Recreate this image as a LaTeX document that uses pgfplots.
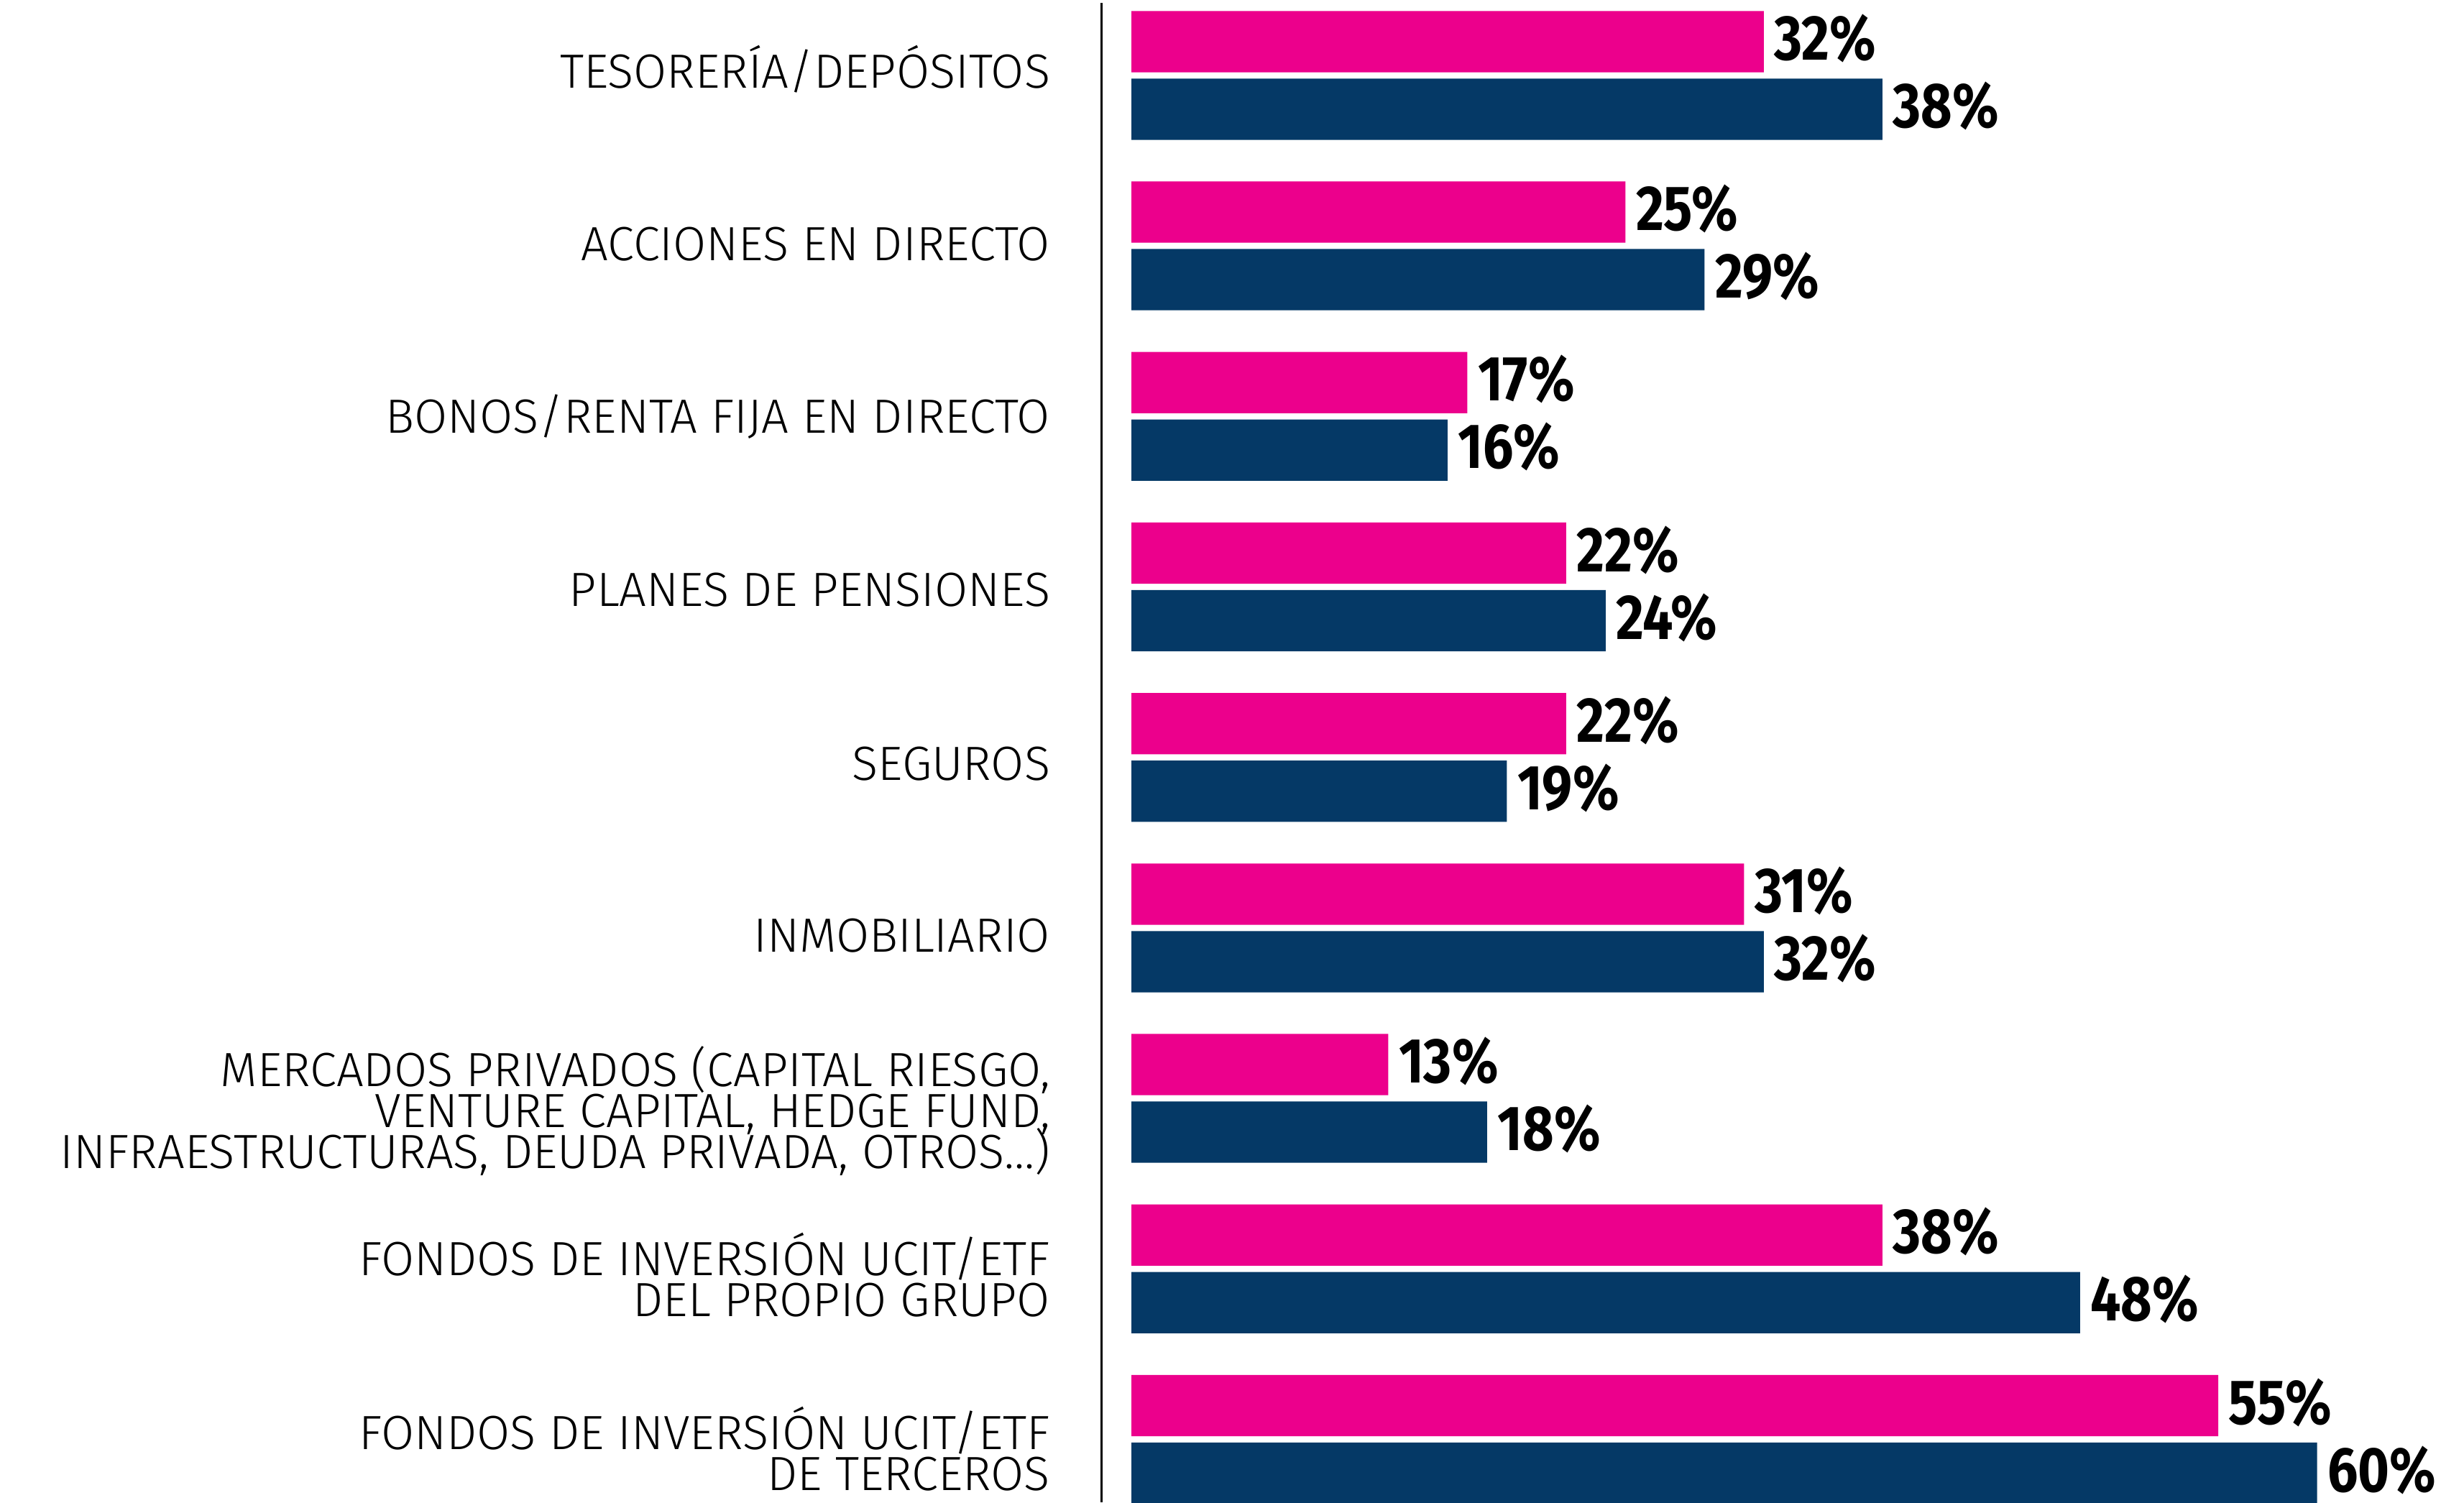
\documentclass[border=0pt]{standalone}
\usepackage{fontspec}
\setmainfont{Fira Sans Light}
\newfontfamily\valfont{Fira Sans Bold}[FakeStretch=0.85]
\usepackage{pgfplots}
\pgfplotsset{compat=1.18}
\definecolor{magenta}{RGB}{236,0,140}
\definecolor{navy}{RGB}{5,57,102}
\pgfplotstableread{
y  pink navy
9  32   38
8  25   29
7  17   16
6  22   24
5  22   19
4  31   32
3  13   18
2  38   48
1  55   60
}\datos
\newcommand\tightlines{\lineskiplimit=-100pt\relax}
% small vertical corrections of the category labels (mm), bottom to top
\def\labshift{{-0.6,-0.4,-0.8,-0.5,-0.4,-0.2,0,0.1,0.4}}
\begin{document}
\begin{tikzpicture}
\begin{axis}[
    scale only axis,
    width=84.9mm, height=95.4mm,
    xbar, bar width=3.9mm,
    xmin=-1.51, xmax=66,
    ymin=0.631, ymax=9.424,
    hide x axis,
    axis y line*=left,
    y axis line style={-, black, line width=0.45pt},
    ytick={1,2,3,4,5,6,7,8,9},
    major tick length=0pt,
    yticklabels={
        {FONDOS DE INVERSIÓN UCIT/ETF\\DE TERCEROS},
        {FONDOS DE INVERSIÓN UCIT/ETF\\DEL PROPIO GRUPO},
        {MERCADOS PRIVADOS (CAPITAL RIESGO,\\VENTURE CAPITAL, HEDGE FUND,\\INFRAESTRUCTURAS, DEUDA PRIVADA, OTROS\ldots)},
        INMOBILIARIO,
        SEGUROS,
        PLANES DE PENSIONES,
        BONOS/RENTA FIJA EN DIRECTO,
        ACCIONES EN DIRECTO,
        TESORERÍA/DEPÓSITOS},
    yticklabel style={font=\fontsize{8.7}{7.4}\selectfont\tightlines,
        align=right, anchor=east, inner sep=0pt, xshift=-3.2mm,
        yshift=\labshift[\ticknum]*1mm},
    nodes near coords={\pgfmathprintnumber{\pgfplotspointmeta}\%},
    every node near coord/.append style={font=\valfont\fontsize{11.5}{12}\selectfont,
        /pgf/number format/assume math mode=true,
        black, anchor=west, inner sep=0pt, xshift=0.6mm, yshift=0.2mm},
    clip=false,
]
    \addplot[draw=none, fill=magenta, bar shift=2.15mm]
        table[x=pink, y=y] {\datos};
    \addplot[draw=none, fill=navy, bar shift=-2.15mm]
        table[x=navy, y=y] {\datos};
\end{axis}
\pgfresetboundingbox
\path ([xshift=-70.1mm]current axis.south west)
    rectangle ([xshift=1.8mm, yshift=0.2mm]current axis.north east);
\end{tikzpicture}
\end{document}
